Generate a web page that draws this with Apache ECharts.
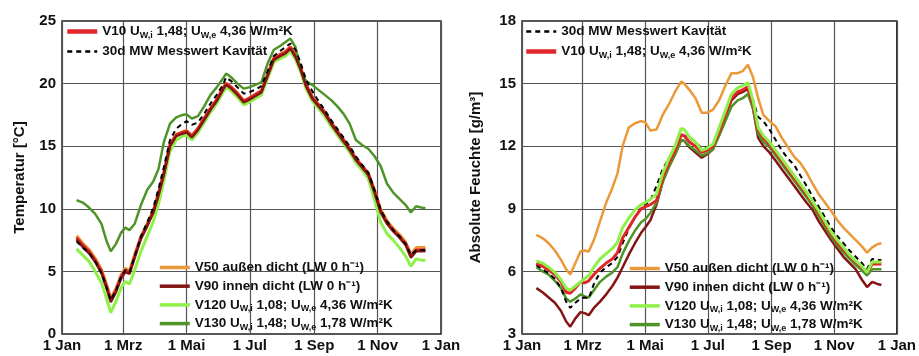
<!DOCTYPE html>
<html>
<head>
<meta charset="utf-8">
<script src="https://cdn.jsdelivr.net/npm/echarts@6/dist/echarts.min.js"></script>
<style>
  html, body { margin: 0; padding: 0; background: #fff; }
  #chart { width: 919px; height: 356px; }
</style>
</head>
<body>
<div id="chart"></div>
<script>
// day of year of each sample (30 day moving averages)
const days = [14, 20, 26, 32, 38, 43, 47, 52, 57, 61, 65, 70, 76, 82, 88, 93, 98, 104, 110, 116, 120, 125, 131, 137, 143, 149, 155, 158, 163, 169, 175, 180, 186, 192, 198, 204, 210, 215, 220, 225, 230, 235, 241, 247, 253, 259, 265, 271, 277, 283, 289, 295, 301, 307, 313, 319, 325, 331, 336, 341, 346, 350];
const monthTicks = [0, 59, 120, 181, 243, 304, 365];
const monthLabels = ["1 Jan", "1 Mrz", "1 Mai", "1 Jul", "1 Sep", "1 Nov", "1 Jan"];

// series names
const nMW = "30d MW Messwert Kavität";
const nV10 = "V10 UW,i 1,48; UW,e 4,36 W/m²K";
const nV50 = "V50 außen dicht (LW 0 h⁻¹)";
const nV90 = "V90 innen dicht (LW 0 h⁻¹)";
const nV120 = "V120 UW,i 1,08; UW,e 4,36 W/m²K";
const nV130 = "V130 UW,i 1,48; UW,e 1,78 W/m²K";

// Temperatur [°C]
const tMW = [7.4, 6.9, 6.5, 5.8, 4.9, 3.7, 2.7, 3.5, 4.6, 5.1, 4.9, 6.2, 7.8, 8.9, 10.1, 11.6, 13.3, 15.5, 16.4, 16.8, 17.0, 16.7, 16.9, 17.6, 18.4, 19.1, 19.9, 20.5, 20.2, 19.7, 19.2, 19.3, 19.5, 19.8, 21.0, 22.2, 22.6, 22.9, 23.2, 22.7, 21.6, 20.3, 19.4, 18.6, 17.9, 17.1, 16.4, 15.7, 15.0, 14.2, 13.5, 12.9, 11.5, 9.9, 9.0, 8.3, 7.8, 7.2, 6.3, 6.7, 6.7, 6.7];
const tV10 = [7.7, 7.1, 6.6, 5.9, 5.0, 3.8, 2.7, 3.5, 4.6, 5.1, 4.9, 6.2, 7.7, 8.7, 9.8, 11.2, 12.8, 15.1, 15.9, 16.1, 16.2, 15.8, 16.4, 17.2, 18.0, 18.7, 19.6, 20.0, 19.7, 19.2, 18.6, 18.8, 19.1, 19.4, 20.7, 22.0, 22.3, 22.5, 22.9, 22.2, 21.2, 19.9, 18.9, 18.3, 17.7, 16.9, 16.2, 15.5, 14.8, 14.0, 13.4, 12.8, 11.4, 9.8, 8.9, 8.3, 7.8, 7.2, 6.2, 6.7, 6.7, 6.7];
const tV50 = [7.85, 7.25, 6.75, 6.05, 5.15, 3.95, 2.85, 3.65, 4.75, 5.25, 5.05, 6.35, 7.8, 8.8, 9.9, 11.3, 12.9, 15.15, 15.95, 16.15, 16.25, 15.85, 16.45, 17.25, 18.05, 18.75, 19.65, 20.05, 19.75, 19.25, 18.65, 18.85, 19.15, 19.45, 20.75, 22.05, 22.35, 22.55, 22.95, 22.25, 21.25, 19.95, 18.95, 18.35, 17.75, 16.95, 16.25, 15.55, 14.85, 14.05, 13.45, 12.85, 11.5, 9.95, 9.05, 8.45, 7.95, 7.35, 6.4, 6.9, 6.9, 6.9];
const tV90 = [7.55, 6.95, 6.45, 5.75, 4.85, 3.65, 2.55, 3.35, 4.45, 4.95, 4.8, 6.1, 7.6, 8.6, 9.7, 11.1, 12.7, 15.0, 15.8, 16.0, 16.1, 15.7, 16.3, 17.1, 17.9, 18.6, 19.5, 19.9, 19.6, 19.1, 18.5, 18.7, 19.0, 19.3, 20.6, 21.9, 22.2, 22.4, 22.8, 22.1, 21.1, 19.8, 18.8, 18.2, 17.6, 16.8, 16.1, 15.4, 14.7, 13.9, 13.3, 12.7, 11.3, 9.7, 8.8, 8.2, 7.7, 7.1, 6.1, 6.6, 6.6, 6.6];
const tV120 = [6.8, 6.3, 5.8, 5.0, 4.1, 2.8, 1.7, 2.6, 3.7, 4.2, 4.0, 5.1, 6.6, 7.8, 9.0, 10.4, 12.2, 14.6, 15.5, 15.8, 15.9, 15.5, 16.1, 16.9, 17.7, 18.4, 19.3, 19.7, 19.4, 18.9, 18.3, 18.5, 18.8, 19.1, 20.4, 21.7, 22.0, 22.2, 22.6, 21.9, 20.9, 19.6, 18.6, 18.0, 17.4, 16.6, 15.9, 15.2, 14.5, 13.7, 13.1, 12.4, 10.7, 8.9, 8.0, 7.5, 6.9, 6.2, 5.4, 6.0, 5.9, 5.9];
const tV130 = [10.7, 10.5, 10.1, 9.6, 8.8, 7.4, 6.6, 7.2, 8.1, 8.5, 8.3, 8.8, 10.3, 11.5, 12.2, 13.2, 15.3, 16.8, 17.3, 17.5, 17.55, 17.2, 17.4, 18.2, 19.1, 19.7, 20.4, 20.8, 20.5, 20.0, 19.6, 19.7, 19.9, 20.1, 21.6, 22.7, 23.0, 23.3, 23.6, 22.9, 21.0, 20.2, 19.9, 19.5, 19.1, 18.7, 18.2, 17.6, 16.8, 15.5, 15.1, 14.8, 14.2, 13.4, 12.0, 11.3, 10.8, 10.3, 9.7, 10.2, 10.1, 10.05];

// Absolute Feuchte [g/m³]
const aMW = [6.3, 6.1, 5.9, 5.65, 5.2, 4.55, 4.25, 4.5, 4.7, 4.75, 4.7, 5.4, 5.95, 6.2, 6.4, 6.7, 7.35, 8.05, 8.6, 9.05, 9.2, 9.4, 10.1, 10.9, 11.4, 11.9, 12.5, 12.5, 12.4, 12.2, 11.9, 11.95, 12.1, 12.8, 13.6, 14.3, 14.6, 14.7, 14.8, 14.2, 13.4, 13.2, 12.8, 12.3, 11.8, 11.4, 11.1, 10.6, 10.1, 9.6, 9.1, 8.6, 8.1, 7.7, 7.35, 7.0, 6.7, 6.4, 6.1, 6.6, 6.55, 6.55];
const aV10 = [6.4, 6.25, 6.07, 5.85, 5.5, 5.0, 4.95, 5.2, 5.5, 5.45, 5.55, 5.85, 6.15, 6.4, 6.6, 6.9, 7.6, 8.1, 8.6, 9.0, 9.1, 9.2, 9.4, 10.5, 11.2, 11.8, 12.55, 12.5, 12.2, 12.0, 11.7, 11.8, 12.0, 12.7, 13.5, 14.3, 14.6, 14.7, 14.85, 14.0, 12.8, 12.4, 12.1, 11.7, 11.3, 10.9, 10.5, 10.1, 9.7, 9.3, 8.8, 8.3, 7.8, 7.4, 7.05, 6.75, 6.45, 6.2, 5.95, 6.35, 6.35, 6.35];
const aV50 = [7.75, 7.6, 7.35, 7.0, 6.55, 6.1, 5.85, 6.4, 6.95, 7.0, 6.95, 7.5, 8.4, 9.3, 10.0, 10.7, 12.0, 12.9, 13.1, 13.2, 13.15, 12.75, 12.8, 13.5, 14.0, 14.6, 15.1, 15.0, 14.7, 14.3, 13.6, 13.6, 13.75, 14.2, 14.9, 15.5, 15.5, 15.6, 15.9, 15.3, 14.3, 13.5, 13.2, 12.95, 12.4, 11.95, 11.5, 11.2, 10.75, 10.2, 9.7, 9.3, 8.9, 8.45, 8.1, 7.8, 7.5, 7.2, 6.9, 7.15, 7.3, 7.35];
const aV90 = [5.2, 5.0, 4.75, 4.5, 4.1, 3.6, 3.35, 3.75, 4.05, 4.0, 3.9, 4.25, 4.55, 4.9, 5.3, 5.7, 6.2, 6.8, 7.35, 7.85, 8.1, 8.45, 9.2, 10.3, 11.0, 11.6, 12.3, 12.25, 11.95, 11.7, 11.45, 11.6, 11.85, 12.6, 13.4, 14.2, 14.5, 14.6, 14.75, 13.8, 12.4, 12.0, 11.7, 11.3, 10.9, 10.5, 10.1, 9.7, 9.3, 8.95, 8.4, 7.95, 7.5, 7.1, 6.7, 6.4, 6.1, 5.6, 5.25, 5.5, 5.4, 5.35];
const aV120 = [6.5, 6.4, 6.2, 5.95, 5.6, 5.2, 5.1, 5.3, 5.5, 5.65, 5.8, 6.2, 6.6, 6.85, 7.1, 7.4, 8.1, 8.55, 8.95, 9.2, 9.3, 9.45, 9.7, 10.7, 11.4, 12.0, 12.85, 12.8, 12.45, 12.2, 11.8, 11.9, 12.1, 12.9, 13.7, 14.5, 14.8, 14.9, 15.05, 14.2, 12.9, 12.5, 12.2, 11.8, 11.4, 11.0, 10.6, 10.2, 9.8, 9.35, 8.9, 8.4, 7.9, 7.5, 7.15, 6.8, 6.5, 6.25, 5.95, 6.45, 6.45, 6.45];
const aV130 = [6.2, 6.0, 5.85, 5.55, 5.2, 4.7, 4.55, 4.7, 4.9, 4.8, 4.75, 5.1, 5.5, 5.75, 5.95, 6.2, 6.85, 7.45, 7.95, 8.35, 8.5, 8.8, 9.3, 10.3, 11.0, 11.6, 12.3, 12.25, 12.0, 11.8, 11.55, 11.65, 11.85, 12.5, 13.2, 13.9, 14.2, 14.3, 14.5, 13.8, 12.6, 12.2, 11.95, 11.55, 11.15, 10.75, 10.35, 9.95, 9.55, 9.15, 8.65, 8.15, 7.65, 7.25, 6.9, 6.6, 6.3, 6.05, 5.8, 6.1, 6.1, 6.1];

const cMW = "#000000";
const cV10 = "#e0262a";
const cV50 = "#eb9838";
const cV90 = "#851414";
const cV120 = "#8ff04a";
const cV130 = "#4f9428";

const font = "Liberation Sans";

function line(name, vals, color, width, idx, dashed) {
  return {
    name: name,
    type: "line",
    xAxisIndex: idx,
    yAxisIndex: idx,
    data: days.map((d, i) => [d, vals[i]]),
    symbol: "none",
    silent: true,
    itemStyle: { color: color },
    lineStyle: { color: color, width: width, type: dashed ? [5, 4] : "solid" },
  };
}

function xAxis(idx) {
  return {
    type: "value",
    gridIndex: idx,
    min: 0,
    max: 365,
    axisLine: { show: false },
    axisTick: { show: false, customValues: monthTicks },
    axisLabel: {
      customValues: monthTicks,
      formatter: (v) => monthLabels[monthTicks.indexOf(v)],
      fontFamily: font,
      fontWeight: "bold",
      fontSize: 15,
      color: "#111",
      margin: 4,
    },
    splitLine: { show: true, lineStyle: { color: "#555", width: 1.2 } },
  };
}

function yAxis(idx, min, max, interval, name, gap) {
  return {
    type: "value",
    gridIndex: idx,
    min: min,
    max: max,
    interval: interval,
    name: name,
    nameLocation: "middle",
    nameGap: gap,
    nameTextStyle: { fontFamily: font, fontWeight: "bold", fontSize: 15, color: "#111" },
    axisLine: { show: false },
    axisTick: { show: false },
    axisLabel: { fontFamily: font, fontWeight: "bold", fontSize: 15, color: "#111", margin: 6 },
    splitLine: { show: true, lineStyle: { color: "#555", width: 1.2 } },
  };
}

function legend(left, top, names, gap) {
  return {
    left: left,
    top: top,
    orient: "vertical",
    padding: 0,
    itemWidth: 30,
    itemHeight: 10,
    itemGap: gap,
    selectedMode: false,
    // thicker icon lines, the dashed one stays thin
    data: names.map((n) => ({ name: n, lineStyle: { width: n === nMW ? 2.5 : n === nV10 ? 4.5 : 3.5 } })),
    itemStyle: { opacity: 0 },
    formatter: (name) => name.replace(/W,([ie])/g, "{s|W,$1}"),
    textStyle: {
      fontFamily: font,
      fontWeight: "bold",
      fontSize: 13.5,
      color: "#111",
      lineHeight: 17,
      rich: {
        s: { fontFamily: font, fontWeight: "bold", fontSize: 9, lineHeight: 9, verticalAlign: "bottom", color: "#111" },
      },
    },
  };
}

const chart = echarts.init(document.getElementById("chart"));
chart.setOption({
  animation: false,
  backgroundColor: "#fff",
  grid: [
    { left: 62, top: 21, width: 379, height: 313, show: true, borderColor: "#222", borderWidth: 1.5 },
    { left: 522, top: 21, width: 375, height: 313, show: true, borderColor: "#222", borderWidth: 1.5 },
  ],
  xAxis: [xAxis(0), xAxis(1)],
  yAxis: [
    yAxis(0, 0, 25, 5, "Temperatur [°C]", 35),
    yAxis(1, 3, 18, 3, "Absolute Feuchte [g/m³]", 39),
  ],
  legend: [
    legend(65, 23, [nV10, nMW], 3),
    legend(158, 259, [nV50, nV90, nV120, nV130], 1.7),
    legend(524, 23, [nMW, nV10], 3),
    legend(628, 260, [nV50, nV90, nV120, nV130], 1.7),
  ],
  series: [
    line(nV120, tV120, cV120, 3, 0),
    line(nV50, tV50, cV50, 3, 0),
    line(nV10, tV10, cV10, 3, 0),
    line(nV130, tV130, cV130, 2.5, 0),
    line(nV90, tV90, cV90, 2.5, 0),
    line(nMW, tMW, cMW, 2, 0, true),
    line(nV50, aV50, cV50, 2.5, 1),
    line(nV90, aV90, cV90, 2.5, 1),
    line(nV130, aV130, cV130, 2.5, 1),
    line(nMW, aMW, cMW, 2, 1, true),
    line(nV10, aV10, cV10, 3, 1),
    line(nV120, aV120, cV120, 3, 1),
  ],
});
</script>
</body>
</html>
